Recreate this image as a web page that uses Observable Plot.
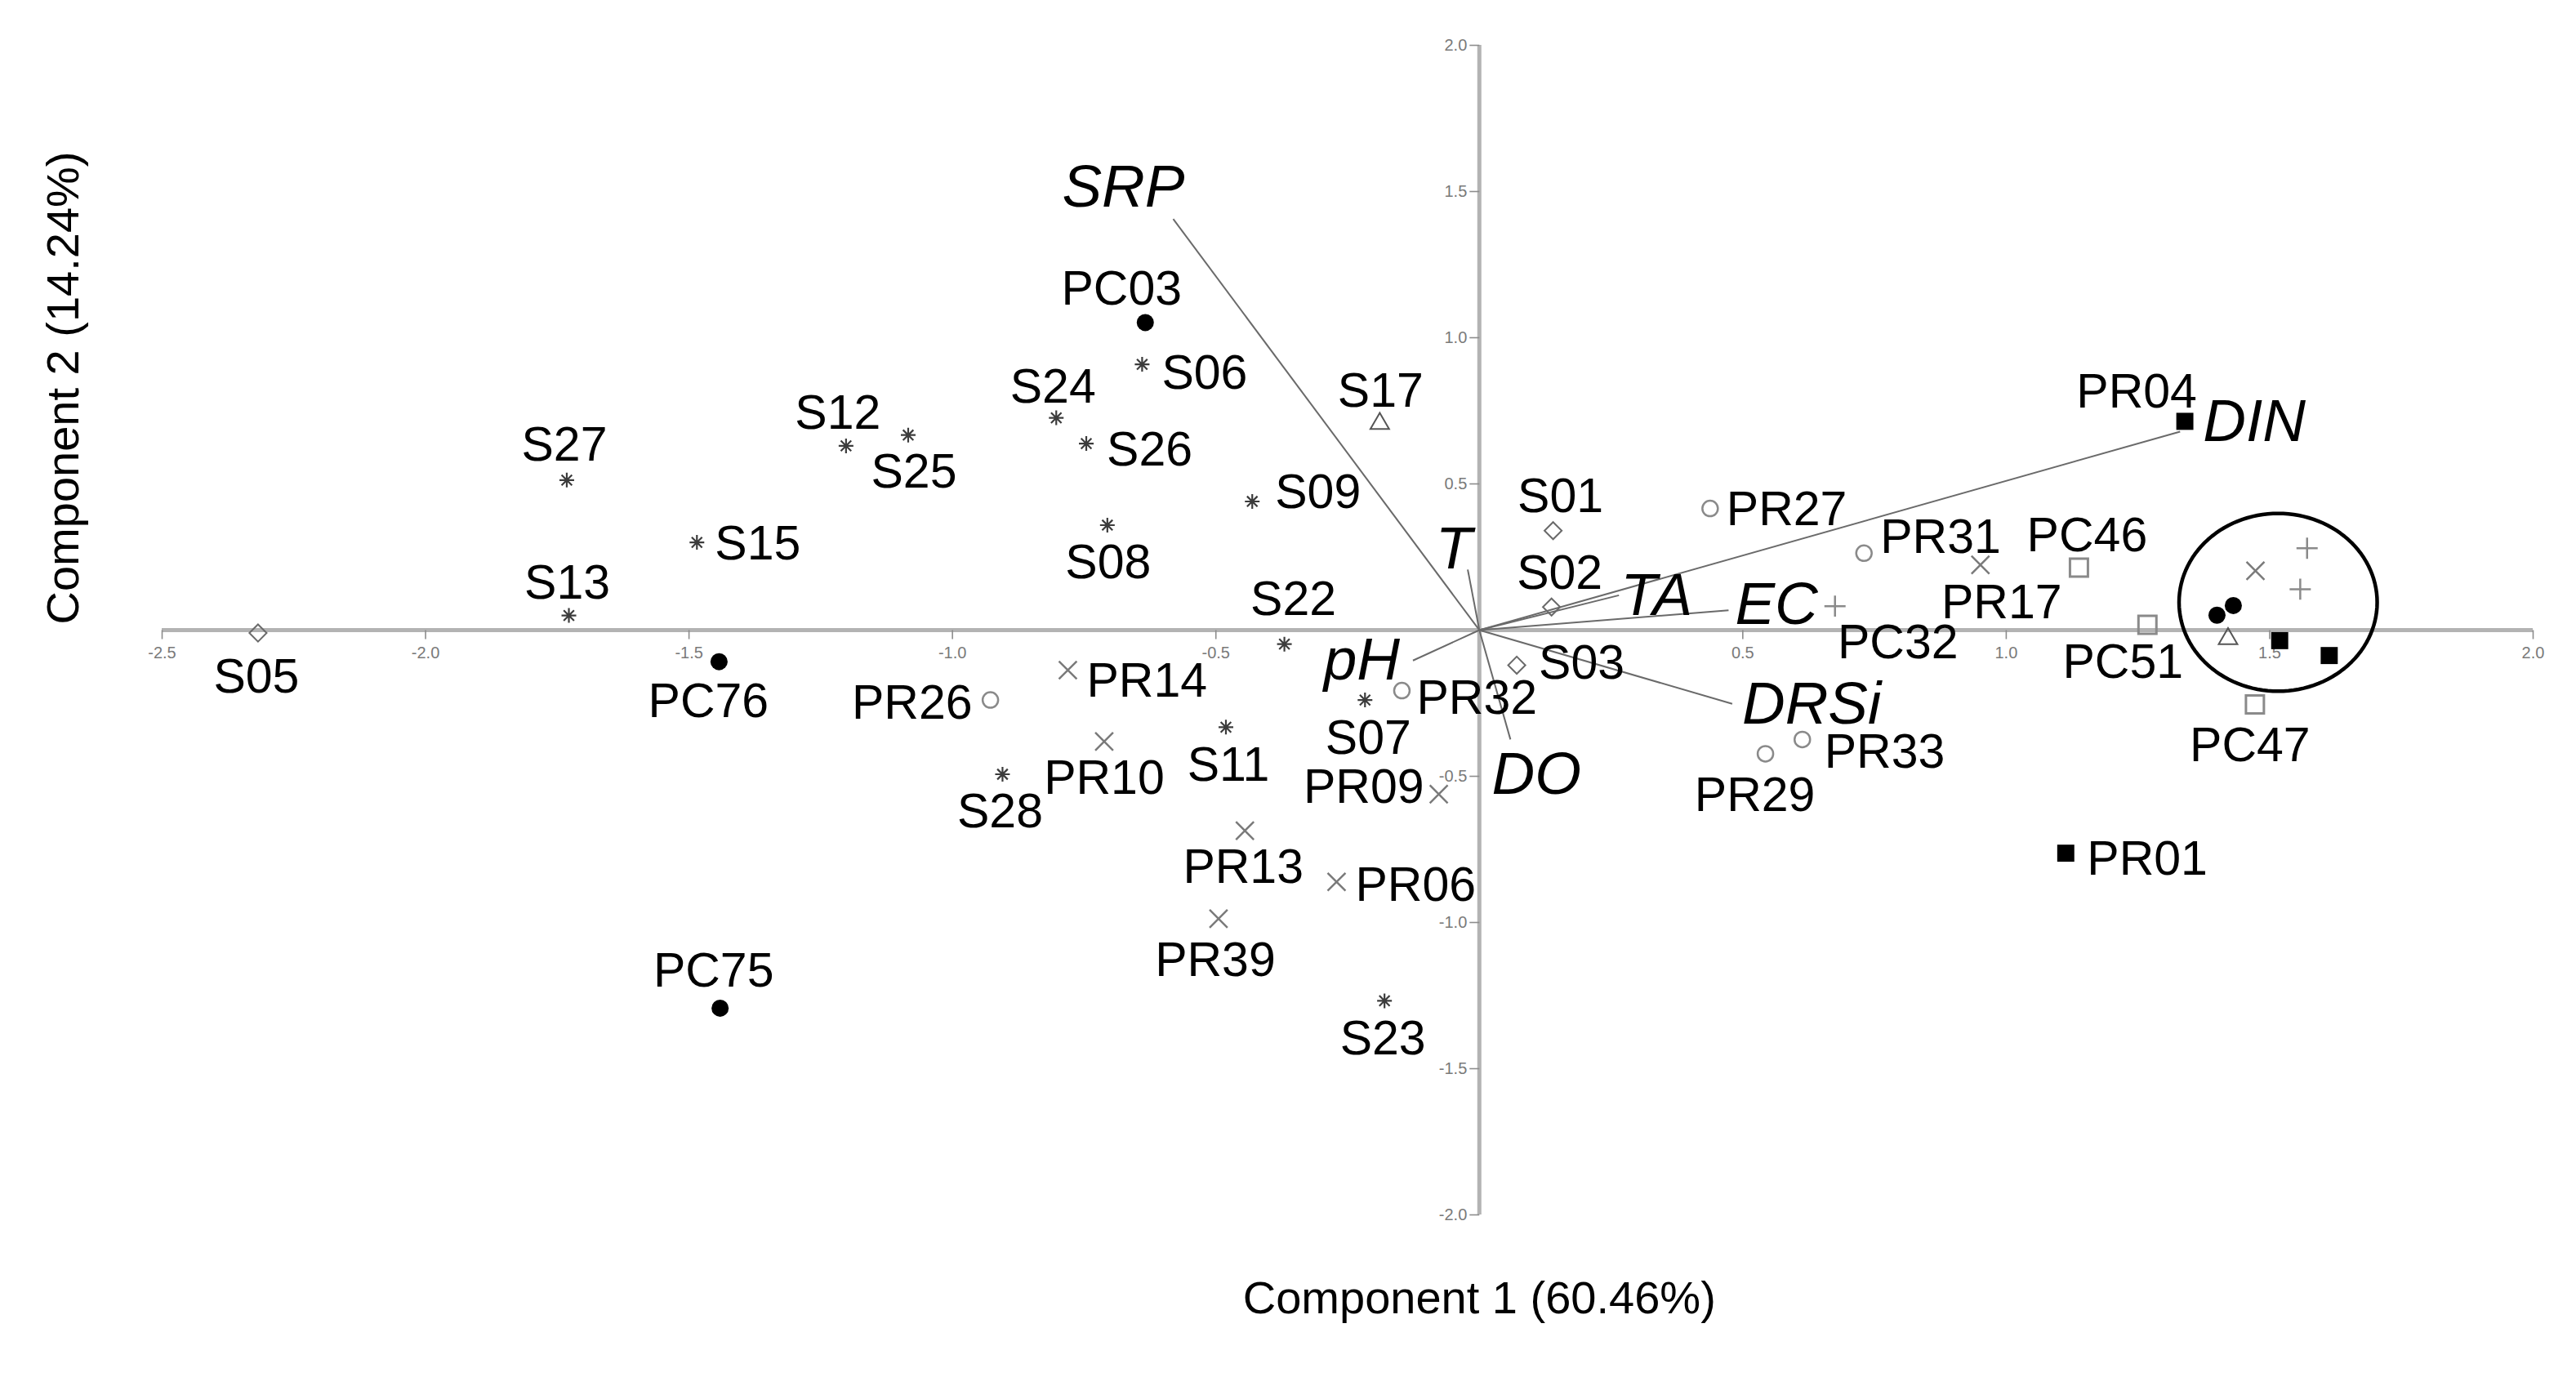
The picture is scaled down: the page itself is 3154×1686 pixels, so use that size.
<!DOCTYPE html>
<html>
<head>
<meta charset="utf-8">
<script src="https://cdn.jsdelivr.net/npm/d3@7"></script>
<script src="https://cdn.jsdelivr.net/npm/@observablehq/plot@0.6"></script>
<style>
  html, body { margin: 0; padding: 0; background: #fff; overflow: hidden; }
</style>
</head>
<body>
<div id="chart"></div>
<script>
// ---------------- DATA ----------------
const siteNames = [
  "S05","S27","S13","S15","S12","S25","S24","S06","S26","S08","S09","S22","S07","S11","S28","S23",
  "S01","S02","S03","S17",
  "PC03","PC76","PC75",
  "PR26","PR32","PR27","PR31","PR33","PR29",
  "PR14","PR10","PR09","PR13","PR06","PR39","PR17",
  "PC32","PC46","PC51","PC47","PR04","PR01",
  "","","","","","","",""
];
const pc1 = [
  -2.318,-1.732,-1.728,-1.485,-1.202,-1.084,-0.803,-0.640,-0.746,-0.706,-0.431,-0.370,-0.217,-0.481,-0.905,-0.180,
  0.140,0.137,0.071,-0.189,
  -0.634,-1.443,-1.441,
  -0.928,-0.147,0.438,0.730,0.613,0.543,
  -0.781,-0.712,-0.077,-0.445,-0.271,-0.495,0.951,
  0.675,1.138,1.268,1.472,1.339,1.113,
  1.473,1.571,1.558,1.431,1.400,1.421,1.519,1.613
];
const pc2 = [
  -0.010,0.513,0.050,0.300,0.630,0.667,0.726,0.909,0.638,0.359,0.440,-0.048,-0.239,-0.332,-0.493,-1.268,
  0.340,0.079,-0.120,0.706,
  1.052,-0.108,-1.293,
  -0.239,-0.207,0.416,0.263,-0.374,-0.423,
  -0.137,-0.381,-0.561,-0.686,-0.861,-0.987,0.223,
  0.082,0.214,0.018,-0.254,0.714,-0.763,
  0.203,0.280,0.140,0.084,0.051,-0.030,-0.036,-0.087
];
const siteGroups = [
  "diamond","asterisk","asterisk","asterisk","asterisk","asterisk","asterisk","asterisk","asterisk","asterisk","asterisk","asterisk","asterisk","asterisk","asterisk","asterisk",
  "diamond","diamond","diamond","triangle",
  "filledCircle","filledCircle","filledCircle",
  "openCircle","openCircle","openCircle","openCircle","openCircle","openCircle",
  "times","times","times","times","times","times","times",
  "plus","openSquare","openSquare","openSquare","filledSquare","filledSquare",
  "times","plus","plus","filledCircle","filledCircle","triangle","filledSquare","filledSquare"
];

const vectorNames = ["SRP","DIN","T","TA","EC","DRSi","pH","DO"];
const vectorPC1 = [-0.581, 1.330, -0.022, 0.265, 0.473, 0.480, -0.126, 0.059];
const vectorPC2 = [ 1.406, 0.679,  0.207, 0.119, 0.068, -0.252, -0.104, -0.374];

const xTicks = [-2.5,-2.0,-1.5,-1.0,-0.5,0.5,1.0,1.5,2.0];
const yTicks = [-2.0,-1.5,-1.0,-0.5,0.5,1.0,1.5,2.0];
const xTitle = "Component 1 (60.46%)";
const yTitle = "Component 2 (14.24%)";

const clusterCenter = [1.516, 0.095];
const clusterRadii = [0.188, 0.304];

// ---------------- LAYOUT / STYLE ----------------
// label placement: [textAnchor, dx(px), dy(px)]
const labelPlacement = {
  S05:["middle",-2,52], S27:["middle",-3,-45], S13:["middle",-2,-41], S15:["start",22,0],
  S12:["middle",-10,-42], S25:["middle",7,43], S24:["middle",-4,-39], S06:["start",24,9],
  S26:["start",25,6], S08:["middle",1,44], S09:["start",28,-13], S22:["middle",11,-57],
  S07:["middle",4,45], S11:["middle",3,45], S28:["middle",-3,44], S23:["middle",-2,45],
  S01:["middle",9,-44], S02:["middle",10,-43], S03:["start",27,-4], S17:["middle",1,-42],
  PC03:["middle",-29,-43], PC76:["middle",-13,47], PC75:["middle",-8,-47],
  PR26:["end",-22,2], PR32:["start",18,8], PR27:["start",20,0], PR31:["start",20,-21],
  PR33:["start",27,14], PR29:["middle",-13,49],
  PR14:["start",23,12], PR10:["middle",0,43], PR09:["end",-18,-10], PR13:["middle",-2,43],
  PR06:["start",23,2], PR39:["middle",-4,49], PR17:["middle",26,44],
  PC32:["middle",77,43], PC46:["middle",10,-41], PC51:["middle",-30,44], PC47:["middle",-6,49],
  PR04:["middle",-59,-38], PR01:["start",26,5]
};
const vectorLabelPlacement = {
  SRP:["middle",-61,-42], DIN:["start",28,-15], T:["middle",-17,-28], TA:["start",2,-2],
  EC:["start",8,-10], DRSi:["start",12,-2], pH:["end",-16,-3], DO:["middle",32,40]
};

const asterisk8 = {draw(ctx, size) {
  const r = Math.sqrt(size / Math.PI), d = r * Math.SQRT1_2;
  ctx.moveTo(-r, 0); ctx.lineTo(r, 0);
  ctx.moveTo(0, -r); ctx.lineTo(0, r);
  ctx.moveTo(-d, -d); ctx.lineTo(d, d);
  ctx.moveTo(-d, d); ctx.lineTo(d, -d);
}};
const tickDown = {draw(ctx, size) { const r = Math.sqrt(size / Math.PI); ctx.moveTo(0, 0); ctx.lineTo(0, r); }};
const tickLeft = {draw(ctx, size) { const r = Math.sqrt(size / Math.PI); ctx.moveTo(0, 0); ctx.lineTo(-r, 0); }};

const markerStyle = {
  asterisk:     {symbol: asterisk8, r: 9, fill: "none", stroke: "#3c3c3c", strokeWidth: 2.2},
  diamond:      {symbol: "diamond2", r: 9.5, fill: "none", stroke: "#6a6a6a", strokeWidth: 2},
  triangle:     {symbol: "triangle", r: 8.5, fill: "none", stroke: "#555", strokeWidth: 2},
  filledCircle: {symbol: "circle", r: 10.5, fill: "#000", stroke: "none"},
  openCircle:   {symbol: "circle", r: 9.5, fill: "none", stroke: "#8a8a8a", strokeWidth: 2.5},
  times:        {symbol: "times", r: 10, fill: "none", stroke: "#7a7a7a", strokeWidth: 2.5},
  plus:         {symbol: "plus", r: 8.4, fill: "none", stroke: "#8a8a8a", strokeWidth: 2.5},
  openSquare:   {symbol: "square", r: 12.4, fill: "none", stroke: "#8a8a8a", strokeWidth: 3},
  filledSquare: {symbol: "square", r: 11.8, fill: "#000", stroke: "none"}
};

const FONT = "'Liberation Sans', Arial, Helvetica, sans-serif";

// ---------------- BUILD ----------------
const sites = siteNames.map((name, i) => ({name, x: pc1[i], y: pc2[i], group: siteGroups[i]}));
const vectors = vectorNames.map((name, i) => ({name, x: vectorPC1[i], y: vectorPC2[i]}));
const ellipse = d3.range(0, 360, 3).map(a => ({
  x: clusterCenter[0] + clusterRadii[0] * Math.cos(a * Math.PI / 180),
  y: clusterCenter[1] + clusterRadii[1] * Math.sin(a * Math.PI / 180)
}));

const marks = [];
// axes lines
marks.push(Plot.ruleY([0], {x1: xTicks[0], x2: xTicks[xTicks.length - 1], stroke: "#b3b3b3", strokeWidth: 5}));
marks.push(Plot.ruleX([0], {y1: yTicks[0], y2: yTicks[yTicks.length - 1], stroke: "#b3b3b3", strokeWidth: 5}));
// ticks
marks.push(Plot.dot(xTicks, {x: d => d, y: 0, symbol: tickDown, r: 11, fill: "none", stroke: "#8c8c8c", strokeWidth: 1.6}));
marks.push(Plot.dot(yTicks, {x: 0, y: d => d, symbol: tickLeft, r: 12, fill: "none", stroke: "#8c8c8c", strokeWidth: 1.6}));
marks.push(Plot.text(xTicks, {x: d => d, y: 0, text: d => d.toFixed(1), dy: 28, fontSize: 20, fill: "#7a7a7a", fontFamily: FONT}));
marks.push(Plot.text(yTicks, {x: 0, y: d => d, text: d => d.toFixed(1), dx: -15, textAnchor: "end", fontSize: 20, fill: "#7a7a7a", fontFamily: FONT}));
// loading vectors
marks.push(Plot.link(vectors, {x1: 0, y1: 0, x2: "x", y2: "y", stroke: "#6a6a6a", strokeWidth: 2}));
// cluster ellipse
marks.push(Plot.line(ellipse, {x: "x", y: "y", curve: "linear-closed", stroke: "#000", strokeWidth: 4.5, fill: "none"}));
// site markers
for (const [group, style] of Object.entries(markerStyle)) {
  marks.push(Plot.dot(sites.filter(d => d.group === group), {x: "x", y: "y", ...style}));
}
// site labels
for (const d of sites) {
  if (!d.name) continue;
  const [anchor, dx, dy] = labelPlacement[d.name];
  marks.push(Plot.text([d], {x: "x", y: "y", text: "name", textAnchor: anchor, dx, dy: dy + 2,
    fontSize: 59, fill: "#000", fontFamily: FONT}));
}
// vector labels
for (const d of vectors) {
  const [anchor, dx, dy] = vectorLabelPlacement[d.name];
  marks.push(Plot.text([d], {x: "x", y: "y", text: "name", textAnchor: anchor, dx, dy: dy + 3,
    fontSize: 73, fontStyle: "italic", fill: "#000", fontFamily: FONT}));
}
// axis titles
marks.push(Plot.text([xTitle], {x: () => 0, frameAnchor: "bottom", text: d => d, dy: 120, fontSize: 56, fill: "#000", fontFamily: FONT}));
marks.push(Plot.text([yTitle], {y: () => 0, frameAnchor: "left", text: d => d, rotate: -90, dx: -120, dy: -7, fontSize: 56, fill: "#000", fontFamily: FONT}));

const chart = Plot.plot({
  width: 3154,
  height: 1686,
  marginLeft: 198,
  marginRight: 53,
  marginTop: 55,
  marginBottom: 199,
  x: {domain: [xTicks[0], xTicks[xTicks.length - 1]], axis: null},
  y: {domain: [yTicks[0], yTicks[yTicks.length - 1]], axis: null},
  style: {background: "#fff", fontFamily: FONT},
  marks
});
document.getElementById("chart").appendChild(chart);
</script>
</body>
</html>
